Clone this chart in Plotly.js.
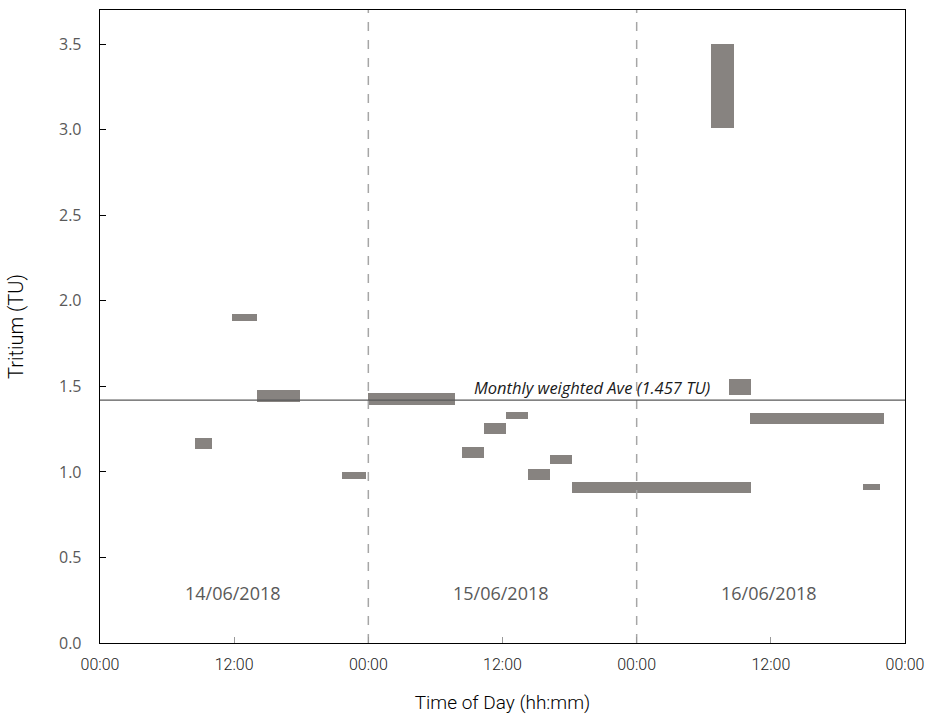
<!DOCTYPE html>
<html>
<head>
<meta charset="utf-8">
<script src="https://cdn.plot.ly/plotly-3.0.1.min.js"></script>
<style>html,body{margin:0;padding:0;background:#fff;}#chart{width:927px;height:714px;}</style>
</head>
<body>
<div id="chart"></div>
<script>
// Sample intervals: hours since 14/06/2018 00:00
const startHours = [8.5, 11.85, 14.0, 21.67, 24.0, 32.4, 34.36, 36.33, 38.3, 40.26, 42.23, 54.65, 56.26, 58.13, 68.2];
const endHours   = [10.0, 14.0, 17.9, 23.8, 31.77, 34.36, 36.33, 38.3, 40.26, 42.23, 58.22, 56.7, 58.22, 70.1, 69.72];
// Tritium range for each sample (TU)
const lowTU  = [1.136, 1.885, 1.411, 0.961, 1.394, 1.082, 1.224, 1.312, 0.955, 1.049, 0.879, 3.012, 1.452, 1.282, 0.895];
const highTU = [1.199, 1.924, 1.480, 1.000, 1.462, 1.146, 1.287, 1.351, 1.018, 1.099, 0.942, 3.503, 1.544, 1.345, 0.930];

const avgLine = 1.42;
const avgLabel = "Monthly weighted Ave (1.457 TU)";
const dayBoundaries = [24, 48];
const dayLabelPos = [11.9, 35.9, 59.8];
const dayLabels = ["14/06/2018", "15/06/2018", "16/06/2018"];
const xTickVals = [0, 12, 24, 36, 48, 60, 72];
const xTickText = ["00:00", "12:00", "00:00", "12:00", "00:00", "12:00", "00:00"];
const yTickVals = [0, 0.5, 1.0, 1.5, 2.0, 2.5, 3.0, 3.5];
const yMax = 3.7;

const traces = [];
dayBoundaries.forEach(d => {
  traces.push({x: [d, d], y: [0, yMax], mode: 'lines', type: 'scatter',
    line: {color: '#a6a6a6', width: 1.5, dash: '9px,9px'}, hoverinfo: 'skip', showlegend: false});
});
traces.push({x: [0, 72], y: [avgLine, avgLine], mode: 'lines', type: 'scatter',
  line: {color: '#595959', width: 1.2}, hoverinfo: 'skip', showlegend: false});
traces.push({
  type: 'bar',
  x: startHours.map((s, i) => (s + endHours[i]) / 2),
  width: startHours.map((s, i) => endHours[i] - s),
  base: lowTU,
  y: highTU.map((h, i) => h - lowTU[i]),
  marker: {color: '#878380', line: {width: 0}},
  showlegend: false
});

const annotations = dayLabels.map((t, i) => ({
  x: dayLabelPos[i], y: 0.29, xref: 'x', yref: 'y', text: t, showarrow: false,
  font: {family: 'Open Sans, DejaVu Sans, sans-serif', size: 18, color: '#595959'}
}));
annotations.push({
  x: 44.05, y: avgLine, xref: 'x', yref: 'y', yanchor: 'bottom', yshift: -1, text: '<i>' + avgLabel + '</i>',
  showarrow: false, font: {family: 'Open Sans, DejaVu Sans, sans-serif', size: 16.5, color: '#1a1a1a'}
});

const layout = {
  width: 927, height: 714,
  margin: {l: 100, r: 22, t: 10, b: 71},
  paper_bgcolor: '#fff', plot_bgcolor: '#fff',
  bargap: 0,
  xaxis: {
    range: [0, 72], tickvals: xTickVals, ticktext: xTickText,
    showgrid: false, zeroline: false, showline: true, mirror: true, linecolor: '#000', linewidth: 1.3,
    ticks: 'inside', ticklen: 6, tickcolor: '#999', ticklabelstandoff: 6,
    tickfont: {family: 'Roboto, sans-serif', size: 16, color: '#222', weight: 300},
    title: {text: 'Time of Day (hh:mm)', standoff: 25,
      font: {family: 'Roboto, sans-serif', size: 19, color: '#000', weight: 300}}
  },
  yaxis: {
    range: [0, yMax], tickvals: yTickVals, ticktext: yTickVals.map(v => v.toFixed(1)),
    showgrid: false, zeroline: false, showline: true, mirror: true, linecolor: '#000', linewidth: 1.3,
    ticks: 'inside', ticklen: 6, tickcolor: '#000', ticklabelstandoff: 14,
    tickfont: {family: 'Open Sans, DejaVu Sans, sans-serif', size: 16, color: '#595959'},
    title: {text: 'Tritium (TU)', standoff: 30,
      font: {family: 'Roboto, sans-serif', size: 20, color: '#000', weight: 300}}
  },
  annotations: annotations
};

Plotly.newPlot('chart', traces, layout, {staticPlot: true, displayModeBar: false});
</script>
</body>
</html>
